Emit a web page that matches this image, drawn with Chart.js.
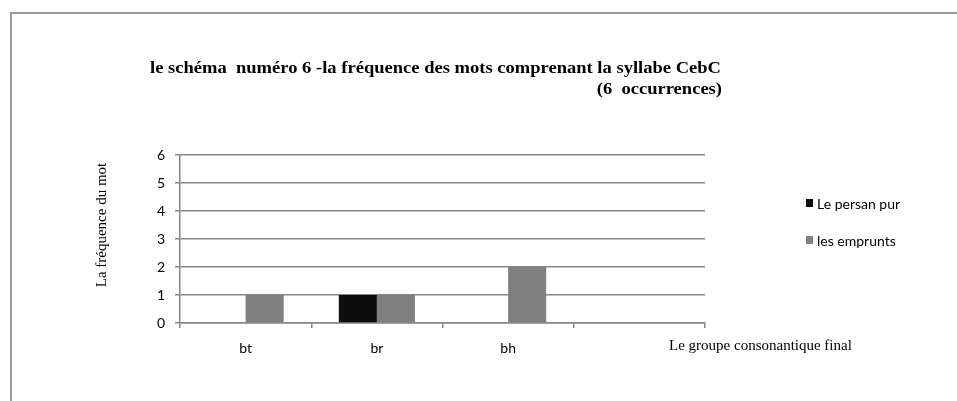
<!DOCTYPE html>
<html>
<head>
<meta charset="utf-8">
<script src="https://cdn.jsdelivr.net/npm/chart.js@4.4.1/dist/chart.umd.min.js"></script>
<style>
  html, body { margin: 0; padding: 0; background: #fff; }
  #wrap { width: 957px; height: 401px; position: relative; }
</style>
</head>
<body>
<div id="wrap"><canvas id="chart" width="957" height="401"></canvas></div>
<script>
// chart data
const categories = ["bt", "br", "bh", ""];
const persanPur = [0, 1, 0, 0];
const emprunts = [1, 1, 2, 0];
const yTicks = [0, 1, 2, 3, 4, 5, 6];

const titleLine1 = "le schéma  numéro 6 -la fréquence des mots comprenant la syllabe CebC";
const titleLine2 = "(6  occurrences)";
const yTitle = "La fréquence du mot";
const xTitle = "Le groupe consonantique final";

const GRID = "#868686";
const SANS = "Lato, 'Open Sans', sans-serif";
const SERIF = "'Liberation Serif', 'DejaVu Serif', serif";

// frame, titles and legend drawn on top of the chart
const decorPlugin = {
  id: "decor",
  afterDraw(chart) {
    const { ctx, chartArea } = chart;
    ctx.save();

    // outer frame (top + left only)
    ctx.strokeStyle = "#9a9a9a";
    ctx.lineWidth = 2;
    ctx.beginPath();
    ctx.moveTo(11, 401);
    ctx.lineTo(11, 13);
    ctx.lineTo(957, 13);
    ctx.stroke();

    // title, condensed to the reference width
    ctx.fillStyle = "#000";
    ctx.font = "bold 17px " + SERIF;
    ctx.textBaseline = "alphabetic";
    const w1 = ctx.measureText(titleLine1).width;
    const sx = 571 / w1;
    ctx.save();
    ctx.translate(150, 73);
    ctx.scale(sx, 1);
    ctx.textAlign = "left";
    ctx.fillText(titleLine1, 0, 0);
    ctx.restore();
    ctx.save();
    ctx.translate(722, 94);
    ctx.scale(sx, 1);
    ctx.textAlign = "right";
    ctx.fillText(titleLine2, 0, 0);
    ctx.restore();

    // axis titles
    ctx.font = "15px " + SERIF;
    ctx.textBaseline = "middle";
    ctx.save();
    ctx.translate(102, 225);
    ctx.rotate(-Math.PI / 2);
    ctx.textAlign = "center";
    ctx.fillText(yTitle, 0, 0);
    ctx.restore();
    ctx.textAlign = "left";
    ctx.fillText(xTitle, chartArea.right - 36, 346);

    // legend
    ctx.font = "14px " + SANS;
    chart.data.datasets.forEach((ds, i) => {
      const y = 199 + i * 37;
      ctx.fillStyle = ds.backgroundColor;
      ctx.fillRect(806, y, 7, 8);
      ctx.fillStyle = "#000";
      ctx.fillText(ds.label, 817, y + 5);
    });

    ctx.restore();
  },
};

new Chart(document.getElementById("chart"), {
  type: "bar",
  plugins: [decorPlugin],
  data: {
    labels: categories,
    datasets: [
      { label: "Le persan pur", data: persanPur, backgroundColor: "#0d0d0d" },
      { label: "les emprunts", data: emprunts, backgroundColor: "#808080" },
    ],
  },
  options: {
    responsive: false,
    animation: false,
    categoryPercentage: 0.58,
    barPercentage: 1,
    layout: { padding: { left: 0, right: 252, top: 155, bottom: 0 } },
    plugins: {
      legend: { display: false },
      title: { display: false },
      tooltip: { enabled: false },
    },
    scales: {
      x: {
        grid: { drawOnChartArea: false, color: GRID, lineWidth: 1.5, tickLength: 5 },
        border: { color: GRID, width: 1.5 },
        ticks: { color: "#000", font: { family: SANS, size: 14 }, padding: 12 },
        afterFit: (s) => { s.height = 78; },
      },
      y: {
        min: 0,
        max: 6,
        afterBuildTicks: (s) => { s.ticks = yTicks.map((v) => ({ value: v })); },
        grid: { color: GRID, lineWidth: 1.5, tickLength: 5 },
        border: { color: GRID, width: 1.5 },
        ticks: { color: "#000", font: { family: SANS, size: 14 }, padding: 10 },
        afterFit: (s) => { s.width = 180; },
      },
    },
  },
});
</script>
</body>
</html>
